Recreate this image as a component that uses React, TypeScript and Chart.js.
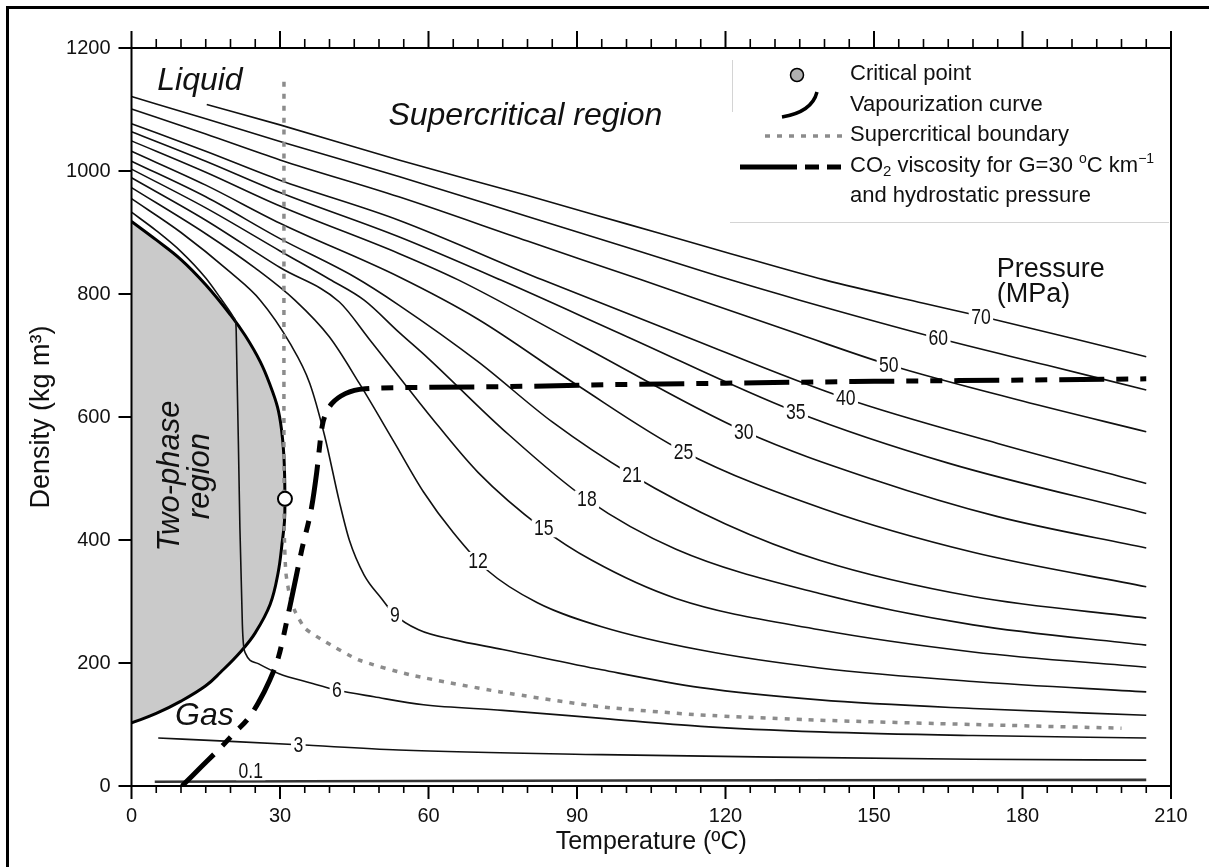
import React, { useEffect, useRef } from 'react';
import { Chart, registerables } from 'chart.js';

Chart.register(...registerables);

const FONT = "'Liberation Sans', Arial, Helvetica, sans-serif";

// ---------- axes ----------
const xMajorTicks = [0, 30, 60, 90, 120, 150, 180, 210];
const yMajorTicks = [0, 200, 400, 600, 800, 1000, 1200];
const xMinorStep = 5;

// ---------- isobars: [temperature °C, density kg/m3] ----------
const isobarNames = ['70', '60', '50', '40', '35', '30', '25', '21', '18', '15', '12', '9', '6', '3', '0.1'];
const iso70 = [[15.2, 1108], [30, 1075], [54, 1018], [80, 960], [100, 914], [120, 868], [140, 823], [160, 785], [172, 763], [190, 728], [205, 698]];
const iso60 = [[0, 1121], [15, 1085], [30, 1048], [54, 991], [80, 926], [100, 876], [121, 823], [135, 790], [163, 728], [185, 684], [205, 644]];
const iso50 = [[0, 1101], [15, 1060], [30, 1018], [54, 958], [80, 886], [103, 823], [135, 734], [153, 685], [180, 626], [205, 576]];
const iso40 = [[0, 1077], [15, 1032], [30, 985], [54, 920], [83, 823], [110, 737], [144, 631], [175, 557], [205, 492]];
const iso35 = [[0, 1064], [15, 1016], [30, 965], [54, 893], [74.5, 823], [100, 731], [134, 609], [165, 525], [205, 443]];
const iso30 = [[0, 1049], [15, 998], [30, 943], [54, 866], [66, 823], [90, 720], [124, 576], [150, 498], [175, 438], [205, 387]];
const iso25 = [[0, 1032], [15, 977], [30, 915], [54, 828], [70, 759], [90, 652], [111.5, 544], [140, 450], [170, 380], [205, 324]];
const iso21 = [[0, 1016], [15, 958], [30, 890], [45, 828], [54, 782], [70, 690], [85, 592], [101, 506], [120, 426], [139, 367], [170, 308], [205, 273]];
const iso18 = [[0, 1003], [15, 940], [30, 870], [40, 824], [47, 790], [54, 738], [60, 695], [75, 580], [92, 466], [110, 385], [139, 313], [170, 262], [205, 229]];
const iso15 = [[0, 989], [15, 920], [30, 843], [42, 787], [48, 727], [54, 666], [60, 605], [70, 510], [83, 419], [93, 367], [110, 305], [139, 254], [170, 218], [205, 193]];
const iso12 = [[0, 973], [15, 898], [25, 842], [33, 790], [40, 730], [46, 655], [53, 560], [59, 478], [65, 412], [72, 350], [82, 298], [95, 259], [115, 221], [139, 192], [170, 170], [205, 153]];
const iso9 = [[0, 955], [10, 900], [20, 835], [26, 790], [32, 720], [36, 655], [39, 570], [42, 462], [44, 400], [47, 343], [50.5, 305], [53, 280], [58, 254], [65, 238], [75, 222], [95, 189], [115, 160], [139, 140], [170, 126], [205, 115]];
const iso6 = [[0, 933], [5, 903], [10, 869], [15, 826], [18, 793], [20, 770], [20.7, 761], [21, 756], [21.15, 740], [21.9, 420], [22.4, 262], [22.6, 232], [23, 216], [25.6, 199], [29.7, 183], [36.4, 167], [41.5, 156], [49, 145], [59, 132], [75, 123], [95, 110], [115, 97], [139, 88], [170, 82], [205, 78]];
const iso3 = [[5.4, 78], [20, 72.5], [33.7, 67], [54, 58.5], [95, 51], [135, 46.5], [170, 43.5], [205, 42]];
const iso01 = [[4.7, 7], [100, 9], [205, 10]];
const isobars = [iso70, iso60, iso50, iso40, iso35, iso30, iso25, iso21, iso18, iso15, iso12, iso9, iso6, iso3, iso01];

// label anchor for each isobar (same order as isobarNames)
const isobarLabelT = [171.6, 163, 153, 144.3, 134.2, 123.7, 111.5, 101.1, 92, 83.3, 70, 53.2, 41.5, 33.7, 24.1];
const isobarLabelRho = [763, 728, 685, 631, 609, 576, 544, 506, 466, 419, 366, 278, 156, 67, 24];

// ---------- vapourization curve (liquid branch -> critical point -> gas branch) ----------
const vapCurve = [[0, 918], [5, 888], [10, 856], [15, 815], [20, 766], [23, 732], [26, 690], [28, 652], [29.5, 616], [30.3, 580], [30.8, 535], [31, 467], [30.9, 430], [30.5, 400], [29.6, 346], [28, 295], [25, 249], [22, 218], [18, 185], [15, 163], [10, 138], [5, 118], [0, 102.5]];

// ---------- supercritical boundary ----------
const boundaryCurve = [[30.8, 1145], [30.8, 467], [30.9, 400], [31.2, 346], [32, 308], [33.1, 283], [35.1, 256], [39.1, 235], [45.9, 205], [56.7, 180], [74.5, 153], [94.7, 129], [115, 115.5], [139, 107], [170, 100], [200, 94]];

// ---------- CO2 density for G = 30 °C/km, hydrostatic pressure ----------
const co2Curve = [[10.2, 0], [14.2, 32], [18.2, 64], [21, 88], [23.6, 110], [25.6, 135], [27.8, 170], [29.7, 210], [32, 292], [34.4, 384], [36.4, 454], [37.4, 509], [38.5, 584], [39.3, 606], [40.5, 622], [43.2, 638], [47.2, 646], [57.3, 648], [80, 650], [100, 653], [120, 655], [150, 658], [180, 660], [205, 662]];

// ---------- critical point ----------
const criticalPoint = [[31, 467]];

// ---------- region labels (data coords) ----------
const regionTexts = ['Liquid', 'Supercritical region', 'Gas'];
const regionT = [5.2, 51.9, 8.8];
const regionRho = [1132, 1075, 99];
const twoPhaseLines = ['Two-phase', 'region'];
const twoPhaseT = [7.8, 13.85];
const twoPhaseRho = 504;
const pressureTexts = ['Pressure', '(MPa)'];
const pressureT = 174.8;
const pressureRho = [828, 787];

const toXY = (pts: number[][]) => pts.map(([x, y]) => ({ x, y }));

function drawRich(ctx: CanvasRenderingContext2D, x: number, y: number, parts: { t: string; size: number; dy?: number }[]) {
  let cx = x;
  for (const p of parts) {
    ctx.font = `${p.size}px ${FONT}`;
    ctx.fillText(p.t, cx, y + (p.dy || 0));
    cx += ctx.measureText(p.t).width;
  }
}

const decorPlugin = {
  id: 'decor',
  beforeDraw(chart: any) {
    const ctx: CanvasRenderingContext2D = chart.ctx;
    ctx.save();
    ctx.fillStyle = '#fff';
    ctx.fillRect(0, 0, chart.width, chart.height);
    ctx.restore();
  },
  afterDatasetsDraw(chart: any) {
    const ctx: CanvasRenderingContext2D = chart.ctx;
    const { x, y } = chart.scales;
    ctx.save();
    ctx.font = `22px ${FONT}`;
    ctx.textAlign = 'center';
    ctx.textBaseline = 'middle';
    isobarNames.forEach((name, i) => {
      const X = x.getPixelForValue(isobarLabelT[i]);
      const Y = y.getPixelForValue(isobarLabelRho[i]);
      ctx.save();
      ctx.translate(X, Y);
      ctx.scale(0.8, 1);
      const w = ctx.measureText(name).width;
      ctx.fillStyle = '#fff';
      ctx.fillRect(-w / 2 - 3, -9, w + 6, 18);
      ctx.fillStyle = '#111';
      ctx.fillText(name, 0, 1);
      ctx.restore();
    });
    ctx.restore();
  },
  afterDraw(chart: any) {
    const ctx: CanvasRenderingContext2D = chart.ctx;
    const a = chart.chartArea;
    const { x, y } = chart.scales;
    ctx.save();
    // page frame (top & left)
    ctx.fillStyle = '#000';
    ctx.fillRect(6, 6, chart.width, 3);
    ctx.fillRect(6, 6, 3, chart.height);

    // plot frame
    ctx.strokeStyle = '#000';
    ctx.lineWidth = 2;
    ctx.strokeRect(a.left, a.top, a.right - a.left, a.bottom - a.top);

    // x ticks (bottom outward, top outward)
    for (let v = 0; v <= 210; v += xMinorStep) {
      const X = x.getPixelForValue(v);
      const major = xMajorTicks.includes(v);
      ctx.lineWidth = major ? 2 : 1.6;
      ctx.beginPath();
      ctx.moveTo(X, a.bottom);
      ctx.lineTo(X, a.bottom + (major ? 13 : 7));
      ctx.moveTo(X, a.top);
      ctx.lineTo(X, a.top - (major ? 17 : 9));
      ctx.stroke();
    }
    // y ticks (left outward)
    ctx.lineWidth = 2;
    for (const v of yMajorTicks) {
      const Y = y.getPixelForValue(v);
      ctx.beginPath();
      ctx.moveTo(a.left - 13, Y);
      ctx.lineTo(a.left, Y);
      ctx.stroke();
    }

    // region texts
    ctx.fillStyle = '#111';
    ctx.textBaseline = 'alphabetic';
    ctx.textAlign = 'left';
    ctx.font = `italic 32px ${FONT}`;
    regionTexts.forEach((t, i) => {
      ctx.fillText(t, x.getPixelForValue(regionT[i]), y.getPixelForValue(regionRho[i]));
    });
    ctx.font = `italic 31px ${FONT}`;
    ctx.textAlign = 'center';
    ctx.textBaseline = 'middle';
    twoPhaseLines.forEach((t, i) => {
      ctx.save();
      ctx.translate(x.getPixelForValue(twoPhaseT[i]), y.getPixelForValue(twoPhaseRho));
      ctx.rotate(-Math.PI / 2);
      ctx.fillText(t, 0, 0);
      ctx.restore();
    });
    ctx.font = `27px ${FONT}`;
    ctx.textAlign = 'left';
    ctx.textBaseline = 'alphabetic';
    pressureTexts.forEach((t, i) => {
      ctx.fillText(t, x.getPixelForValue(pressureT), y.getPixelForValue(pressureRho[i]));
    });

    // legend box faint lines
    ctx.strokeStyle = '#d4d4d4';
    ctx.lineWidth = 1;
    ctx.beginPath();
    ctx.moveTo(730, 222.5);
    ctx.lineTo(a.right - 2, 222.5);
    ctx.moveTo(732.5, 60);
    ctx.lineTo(732.5, 112);
    ctx.stroke();

    // legend glyphs
    ctx.fillStyle = '#b0b0b0';
    ctx.strokeStyle = '#000';
    ctx.lineWidth = 1.5;
    ctx.beginPath();
    ctx.arc(797, 75, 6.5, 0, Math.PI * 2);
    ctx.fill();
    ctx.stroke();

    ctx.lineWidth = 3.5;
    ctx.beginPath();
    ctx.moveTo(782, 117);
    ctx.quadraticCurveTo(812, 112, 817, 92);
    ctx.stroke();

    ctx.strokeStyle = '#8c8c8c';
    ctx.lineWidth = 3.5;
    ctx.setLineDash([5, 7]);
    ctx.beginPath();
    ctx.moveTo(765, 136);
    ctx.lineTo(842, 136);
    ctx.stroke();

    ctx.strokeStyle = '#000';
    ctx.lineWidth = 5;
    ctx.setLineDash([57, 8, 14, 8, 14, 100]);
    ctx.beginPath();
    ctx.moveTo(740, 167);
    ctx.lineTo(843, 167);
    ctx.stroke();
    ctx.setLineDash([]);

    // legend texts
    ctx.fillStyle = '#111';
    ctx.textAlign = 'left';
    ctx.textBaseline = 'alphabetic';
    const lx = 850;
    ctx.font = `22px ${FONT}`;
    ctx.fillText('Critical point', lx, 80);
    ctx.fillText('Vapourization curve', lx, 111);
    ctx.fillText('Supercritical boundary', lx, 141);
    drawRich(ctx, lx, 172, [
      { t: 'CO', size: 22 },
      { t: '2', size: 15, dy: 4 },
      { t: ' viscosity for G=30 ', size: 22 },
      { t: 'o', size: 14, dy: -9 },
      { t: 'C km', size: 22 },
      { t: '\u22121', size: 14, dy: -9 },
    ]);
    ctx.font = `22px ${FONT}`;
    ctx.fillText('and hydrostatic pressure', lx, 202);
    ctx.restore();
  },
};

export default function App() {
  const ref = useRef<HTMLCanvasElement | null>(null);
  useEffect(() => {
    if (!ref.current) return;
    const isoSets = isobars.map((pts, i) => ({
      label: `${isobarNames[i]} MPa`,
      data: toXY(pts),
      showLine: true,
      borderColor: i === isobars.length - 1 ? '#333' : '#111',
      borderWidth: i === isobars.length - 1 ? 2.6 : 1.6,
      pointRadius: 0,
      cubicInterpolationMode: 'monotone' as const,
      fill: false,
      order: 5,
    }));
    const chart = new Chart(ref.current, {
      type: 'scatter',
      data: {
        datasets: [
          {
            label: 'Vapourization curve',
            data: toXY(vapCurve),
            showLine: true,
            borderColor: '#000',
            borderWidth: 3,
            backgroundColor: '#cacaca',
            fill: 'shape',
            pointRadius: 0,
            tension: 0.4,
            order: 10,
          } as any,
          ...isoSets,
          {
            label: 'Supercritical boundary',
            data: toXY(boundaryCurve),
            showLine: true,
            borderColor: '#8c8c8c',
            borderWidth: 3.5,
            borderDash: [5, 7],
            pointRadius: 0,
            tension: 0.2,
            order: 3,
          },
          {
            label: 'CO2',
            data: toXY(co2Curve),
            showLine: true,
            borderColor: '#000',
            borderWidth: 5,
            borderDash: [45, 12, 12, 12, 12, 12],
            pointRadius: 0,
            cubicInterpolationMode: 'monotone',
            order: 1,
          },
          {
            label: 'Critical point',
            data: toXY(criticalPoint),
            showLine: false,
            pointRadius: 7,
            pointBackgroundColor: '#fff',
            pointBorderColor: '#000',
            pointBorderWidth: 2,
            order: 0,
          },
        ],
      },
      options: {
        animation: false,
        responsive: false,
        events: [],
        devicePixelRatio: 1,
        layout: { padding: { left: 0, right: 38, top: 48, bottom: 0 } },
        plugins: { legend: { display: false }, tooltip: { enabled: false } },
        scales: {
          x: {
            type: 'linear',
            position: 'bottom',
            min: 0,
            max: 210,
            afterBuildTicks: (s: any) => {
              s.ticks = xMajorTicks.map((v) => ({ value: v }));
            },
            afterFit: (s: any) => {
              s.height = 81;
            },
            ticks: { font: { family: FONT, size: 20 }, color: '#111', padding: 18, maxRotation: 0, autoSkip: false, callback: (v: any) => String(v) },
            grid: { display: false, drawTicks: false },
            border: { display: false },
            title: {
              display: true,
              text: 'Temperature (\u00baC)',
              color: '#111',
              font: { family: FONT, size: 25 },
              padding: { top: 0, bottom: 10 },
            },
          },
          y: {
            type: 'linear',
            position: 'left',
            min: 0,
            max: 1200,
            afterBuildTicks: (s: any) => {
              s.ticks = yMajorTicks.map((v) => ({ value: v }));
            },
            afterFit: (s: any) => {
              s.width = 131.5;
            },
            ticks: { font: { family: FONT, size: 20 }, color: '#111', padding: 21, autoSkip: false, callback: (v: any) => String(v) },
            grid: { display: false, drawTicks: false },
            border: { display: false },
            title: {
              display: true,
              text: 'Density (kg m\u00b3)',
              color: '#111',
              font: { family: FONT, size: 27 },
              padding: { top: 25, bottom: 0 },
            },
          },
        },
      },
      plugins: [decorPlugin],
    });
    return () => chart.destroy();
  }, []);
  return (
    <div style={{ position: 'absolute', left: 0, top: 0, width: 1209, height: 867 }}>
      <canvas ref={ref} width={1209} height={867} style={{ width: 1209, height: 867, display: 'block' }} />
    </div>
  );
}
